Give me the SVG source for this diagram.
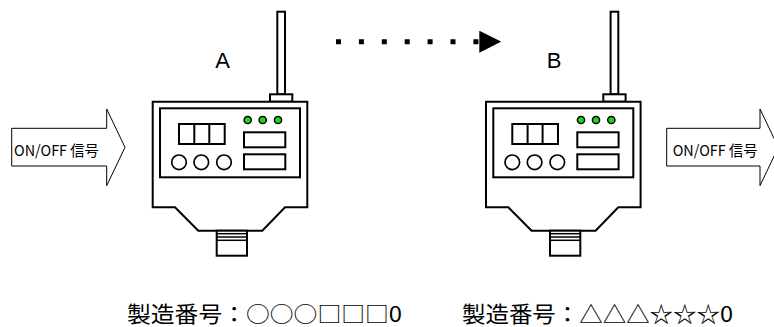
<svg xmlns="http://www.w3.org/2000/svg" width="774" height="327" viewBox="0 0 774 327">
  <defs>
    <style>
      .ln { fill: #fff; stroke: #000; stroke-width: 2; stroke-linejoin: miter; }
      .thin { fill: none; stroke: #000; stroke-width: 1.7; }
      .led { fill: #1ed81e; stroke: #000; stroke-width: 1.5; }
      .sig { fill: #fff; stroke: #000; stroke-width: 1; }
      .sigtxt { font-family: "Noto Sans CJK JP", "Liberation Sans", sans-serif; font-size: 15px; fill: #000; }
      .lbl { font-family: "Liberation Sans", Arial, sans-serif; font-size: 22px; fill: #000; text-anchor: middle; }
      .serial { font-family: "Noto Sans CJK JP", "Liberation Sans", sans-serif; font-size: 22px; fill: #000; }
    </style>
    <marker id="head" markerUnits="userSpaceOnUse" markerWidth="22" markerHeight="22" refX="0" refY="11" orient="auto" viewBox="0 0 22 22">
      <polygon points="0,0 22,11 0,22" fill="#000"/>
    </marker>
    <!-- wireless sensor unit, drawn at the position of unit A -->
    <g id="unit">
      <!-- antenna -->
      <rect x="277.3" y="11.7" width="7.7" height="82.6" class="ln"/>
      <rect x="270" y="94.3" width="22.3" height="7.4" class="ln"/>
      <!-- housing -->
      <path d="M152.7,101.7 H307.3 V207.3 H285 L262.3,230.7 H198.3 L175,207.3 H152.7 Z" class="ln"/>
      <!-- front panel -->
      <rect x="160" y="108.3" width="140" height="69" class="ln"/>
      <!-- segment display -->
      <rect x="179" y="124" width="45.7" height="20" class="ln"/>
      <line x1="194.3" y1="124" x2="194.3" y2="144" stroke="#000" stroke-width="2"/>
      <line x1="209.3" y1="124" x2="209.3" y2="144" stroke="#000" stroke-width="2"/>
      <!-- buttons -->
      <circle cx="179" cy="162.3" r="7.3" class="thin"/>
      <circle cx="201.3" cy="162.3" r="7.3" class="thin"/>
      <circle cx="224" cy="162.3" r="7.3" class="thin"/>
      <!-- indicator LEDs -->
      <circle cx="247.7" cy="120" r="3.6" class="led"/>
      <circle cx="262.7" cy="120" r="3.6" class="led"/>
      <circle cx="278" cy="120" r="3.6" class="led"/>
      <!-- readouts -->
      <rect x="244" y="132.3" width="41.3" height="15" class="ln"/>
      <rect x="244" y="154.3" width="41.3" height="15" class="ln"/>
      <!-- cable connector -->
      <rect x="216.7" y="230.7" width="30.3" height="25" class="ln"/>
      <line x1="216.7" y1="233.7" x2="247" y2="233.7" stroke="#000" stroke-width="1.5"/>
      <line x1="216.7" y1="237" x2="247" y2="237" stroke="#000" stroke-width="1.5"/>
      <line x1="216.7" y1="240.3" x2="247" y2="240.3" stroke="#000" stroke-width="1.5"/>
    </g>
  </defs>

  <rect width="774" height="327" fill="#fff"/>

  <!-- input signal -->
  <g id="signal-in">
    <path d="M11.7,128.3 H106.7 V109 L125,147.3 L106.7,185.7 V166 H11.7 Z" class="sig"/>
    <text x="14" y="156" class="sigtxt" textLength="85" lengthAdjust="spacingAndGlyphs">ON/OFF 信号</text>
  </g>

  <!-- unit A -->
  <g id="unit-a">
    <use href="#unit"/>
    <text x="222.5" y="67.7" class="lbl">A</text>
  </g>

  <!-- unit B -->
  <g id="unit-b">
    <use href="#unit" transform="translate(333.3,0)"/>
    <text x="554" y="67.7" class="lbl">B</text>
  </g>

  <!-- output signal -->
  <g id="signal-out">
    <path d="M666.7,128.3 H760 V109 L778.3,147.3 L760,185.7 V166 H666.7 Z" class="sig"/>
    <text x="672.7" y="156" class="sigtxt" textLength="85" lengthAdjust="spacingAndGlyphs">ON/OFF 信号</text>
  </g>

  <!-- replacement: A to B -->
  <g id="connectors">
    <line x1="336" y1="41.7" x2="479.3" y2="41.7" stroke="#000" stroke-width="5" stroke-dasharray="5 17.9" marker-end="url(#head)"/>
  </g>

  <!-- serial numbers -->
  <g id="serials">
    <text x="127" y="322" class="serial" textLength="275" lengthAdjust="spacingAndGlyphs">製造番号：○○○□□□0</text>
    <text x="462" y="322" class="serial" textLength="271" lengthAdjust="spacingAndGlyphs">製造番号：△△△☆☆☆0</text>
  </g>
</svg>
